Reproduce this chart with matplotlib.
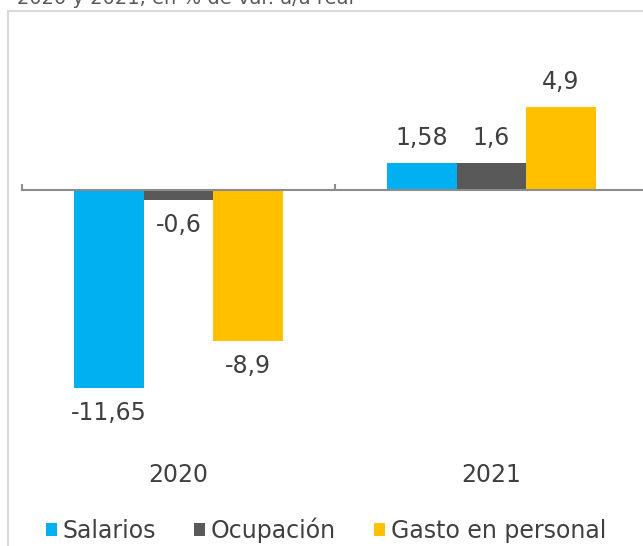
import matplotlib
matplotlib.use("Agg")
import matplotlib.pyplot as plt
from matplotlib.patches import Rectangle, Patch
import numpy as np

plt.rcParams['font.family'] = ['DejaVu Sans']

categories = ["2020", "2021"]
series_names = ["Salarios", "Ocupación", "Gasto en personal"]
salarios = [-11.65, 1.58]
ocupacion = [-0.6, 1.6]
gasto = [-8.9, 4.9]
labels_salarios = ["-11,65", "1,58"]
labels_ocupacion = ["-0,6", "1,6"]
labels_gasto = ["-8,9", "4,9"]
title = "2020 y 2021, en % de var. a/a real"

colors = ["#00B0F0", "#595959", "#FFC000"]
text_color = "#404040"

W, H = 643, 546
fig = plt.figure(figsize=(W / 100, H / 100), dpi=100)

# axes in pixel terms
x0_px, x1_px = 22, 648
y_zero = 190
ppu = 17.0
y_bot_px, y_top_px = 455, 60
ax = fig.add_axes([x0_px / W, 1 - y_bot_px / H, (x1_px - x0_px) / W, (y_bot_px - y_top_px) / H])
ax.set_xlim(-0.5, 1.5)
ax.set_ylim(-(y_bot_px - y_zero) / ppu, (y_zero - y_top_px) / ppu)

x = np.arange(len(categories))
bw = 0.222
series = [salarios, ocupacion, gasto]
labs = [labels_salarios, labels_ocupacion, labels_gasto]
for i, (vals, lab, col) in enumerate(zip(series, labs, colors)):
    pos = x + (i - 1) * bw
    ax.bar(pos, vals, width=bw, color=col, zorder=2)
    for p, v, t in zip(pos, vals, lab):
        off = 18 if v >= 0 else -18
        ax.annotate(t, (p, v), xytext=(0, off), textcoords="offset points",
                    ha="center", va="center", fontsize=17, color=text_color,
                    annotation_clip=False)

for s in ["top", "right", "left"]:
    ax.spines[s].set_visible(False)
ax.spines["bottom"].set_position(("data", 0))
ax.spines["bottom"].set_color("#8C8C8C")
ax.spines["bottom"].set_linewidth(1.5)
ax.spines["bottom"].set_zorder(3)
ax.set_yticks([])
ax.set_xticks([-0.5, 0.5, 1.5])
ax.set_xticklabels([])
ax.tick_params(axis="x", which="major", direction="in", length=4.5, width=1.5, color="#8C8C8C")
ax.set_xticks(x, minor=True)
ax.set_xticklabels(categories, minor=True)
ax.tick_params(axis="x", which="minor", length=0, labelsize=17, labelcolor=text_color)
# move category labels to the bottom of the axes
for lbl in ax.get_xticklabels(minor=True):
    pass
ax.xaxis.set_tick_params(which="minor", pad=0)
import matplotlib.transforms as mtrans
for t in ax.xaxis.get_minor_ticks():
    t.label1.set_transform(mtrans.blended_transform_factory(ax.transData, ax.transAxes) +
                           mtrans.ScaledTranslation(0, -6 / 72, fig.dpi_scale_trans))
    t.label1.set_verticalalignment("top")

# legend
handles = [Patch(facecolor=c, edgecolor="none") for c in colors]
fig.legend(handles, series_names, loc="center", bbox_to_anchor=(0.507, 1 - 530 / H),
           ncol=3, frameon=False, fontsize=17, handlelength=0.47, handleheight=0.47,
           handletextpad=0.25, columnspacing=1.6, labelcolor=text_color)

# chart border
fig.patches.append(Rectangle((8 / W, -0.1), 1.2, 0.1 + (H - 11) / H, transform=fig.transFigure,
                             fill=False, edgecolor="#D9D9D9", linewidth=1.5))

# cut-off title
fig.text(17 / W, 1 - 4 / H, title, fontsize=14, color="#595959", ha="left", va="baseline")

fig.savefig("out.png", dpi=100)
